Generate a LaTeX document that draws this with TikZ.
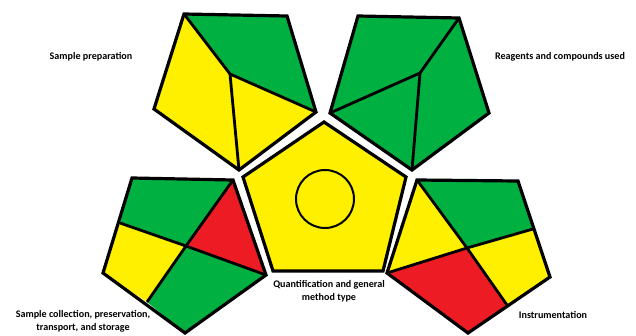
\documentclass[tikz,border=0pt]{standalone}
\usepackage{fontspec}
\setmainfont{Carlito}
\definecolor{gG}{RGB}{0,176,64}
\definecolor{gY}{RGB}{255,240,0}
\definecolor{gR}{RGB}{237,28,36}
\begin{document}
\begin{tikzpicture}[x=1pt,y=-1pt,
  seg/.style={draw=black,line width=2.8pt,line join=miter},
  outl/.style={draw=black,line width=3.2pt,line join=miter},
  lab/.style={font=\fontsize{10.1}{12.8}\selectfont\bfseries,align=center,inner sep=0pt}]
\useasboundingbox (0,0) rectangle (636,335);
% ---------- Sample preparation (top-left)
\coordinate (a1) at (184,14); \coordinate (a2) at (287,16); \coordinate (a3) at (316,112);
\coordinate (a4) at (239,170); \coordinate (a5) at (154,109); \coordinate (ai) at (230,74);
\fill[gG] (a1)--(a2)--(a3)--(ai)--cycle;
\fill[gY] (a1)--(ai)--(a4)--(a5)--cycle;
\fill[gY] (ai)--(a3)--(a4)--cycle;
\draw[seg] (a1)--(ai)--(a3) (ai)--(a4);
\draw[outl] (a1)--(a2)--(a3)--(a4)--(a5)--cycle;
% ---------- Reagents (top-right)
\coordinate (b1) at (358,16); \coordinate (b2) at (459,18); \coordinate (b3) at (489,113);
\coordinate (b4) at (412,170); \coordinate (b5) at (330,113); \coordinate (bi) at (420,73);
\fill[gG] (b1)--(b2)--(b3)--(b4)--(b5)--cycle;
\draw[seg] (b2)--(bi)--(b5) (bi)--(b4);
\draw[outl] (b1)--(b2)--(b3)--(b4)--(b5)--cycle;
% ---------- Centre
\coordinate (c1) at (324,122); \coordinate (c2) at (406,177); \coordinate (c3) at (383,271);
\coordinate (c4) at (273,271); \coordinate (c5) at (243,177);
\fill[gY] (c1)--(c2)--(c3)--(c4)--(c5)--cycle;
\draw[outl] (c1)--(c2)--(c3)--(c4)--(c5)--cycle;
\draw[black,line width=2pt] (325,199) circle (29);
% ---------- Sample collection (bottom-left)
\coordinate (d1) at (132,178); \coordinate (d2) at (233,180); \coordinate (d3) at (266,275);
\coordinate (d4) at (185,333); \coordinate (d5) at (103,273); \coordinate (di) at (186,246);
\coordinate (de1) at (120,223); \coordinate (de2) at (147,302);
\fill[gG] (d1)--(d2)--(di)--(de1)--cycle;
\fill[gR] (d2)--(d3)--(di)--cycle;
\fill[gY] (de1)--(di)--(de2)--(d5)--cycle;
\fill[gG] (di)--(d3)--(d4)--(de2)--cycle;
\draw[seg] (de1)--(di)--(d3) (d2)--(di)--(de2);
\draw[outl] (d1)--(d2)--(d3)--(d4)--(d5)--cycle;
% ---------- Instrumentation (bottom-right)
\coordinate (e1) at (417,180); \coordinate (e2) at (518,181); \coordinate (e3) at (550,277);
\coordinate (e4) at (468,333); \coordinate (e5) at (387,273); \coordinate (ei) at (467,248);
\coordinate (ee1) at (533,229); \coordinate (ee2) at (507,305);
\fill[gY] (e1)--(ei)--(e5)--cycle;
\fill[gG] (e1)--(e2)--(ee1)--(ei)--cycle;
\fill[gY] (ei)--(ee1)--(e3)--(ee2)--cycle;
\fill[gR] (e5)--(ei)--(ee2)--(e4)--cycle;
\draw[seg] (e1)--(ei)--(ee1) (e5)--(ei)--(ee2);
\draw[outl] (e1)--(e2)--(e3)--(e4)--(e5)--cycle;
% ---------- Labels
\node[lab] (lsp) at (91,57) {Sample preparation};
\node[lab] (lrc) at (560,57) {Reagents and compounds used};
\node[lab] (lqm) at (329,291) {Quantification and general\\method type};
\node[lab] (lsc) at (83,321) {Sample collection, preservation,\\transport, and storage};
\node[lab] (lin) at (553,315) {Instrumentation};
\end{tikzpicture}
\end{document}
